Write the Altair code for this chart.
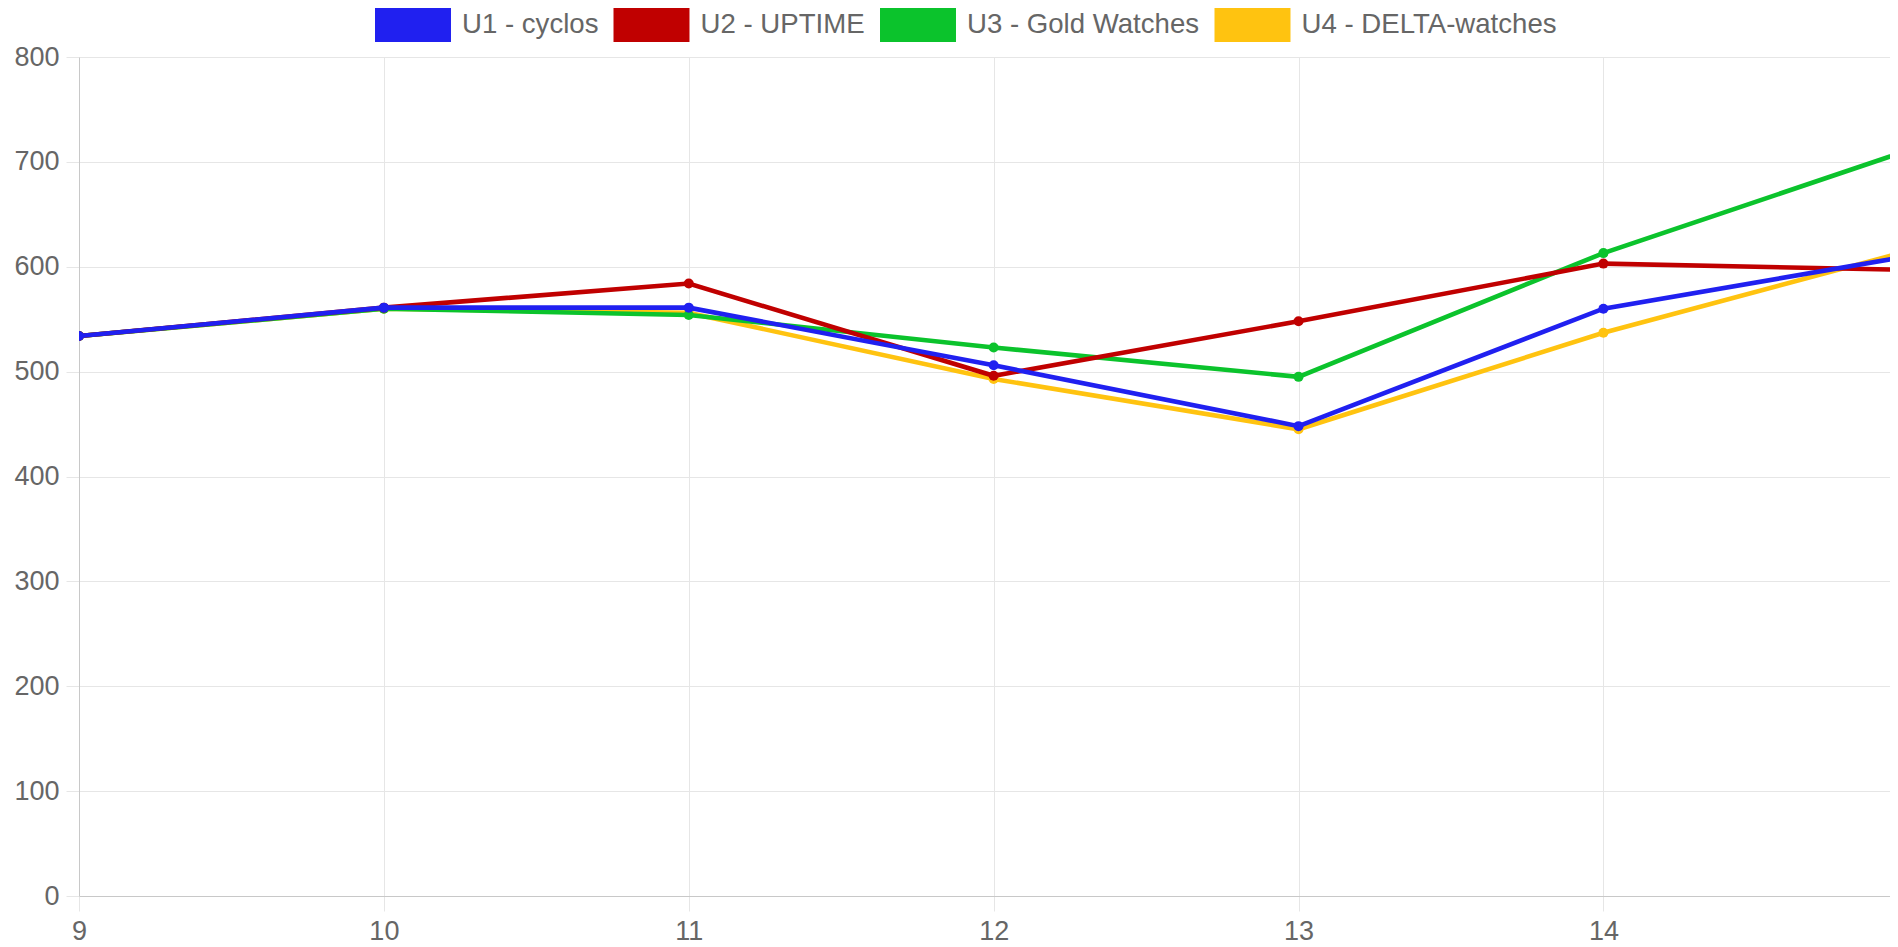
import altair as alt
import pandas as pd

# ---- data ----
x_values = [9, 10, 11, 12, 13, 14, 15]
x_tick_values = [9, 10, 11, 12, 13, 14]
series_names = ["U1 - cyclos", "U2 - UPTIME", "U3 - Gold Watches", "U4 - DELTA-watches"]
u1_cyclos = [534, 561, 561, 506, 448, 560, 610]
u2_uptime = [534, 561, 584, 496, 548, 603, 597]
u3_gold = [534, 560, 554, 523, 495, 613, 711]
u4_delta = [534, 560, 556, 493, 445, 537, 615]
y_ticks = [0, 100, 200, 300, 400, 500, 600, 700, 800]
series_colors = ["#2020F0", "#C00000", "#0BC32C", "#FFC310"]

all_series = [u1_cyclos, u2_uptime, u3_gold, u4_delta]
rows = []
for name, vals in zip(series_names, all_series):
    for x, v in zip(x_values, vals):
        rows.append({"x": x, "value": v, "series": name})
df = pd.DataFrame(rows)

FONT = "Liberation Sans"
GREY = "#666666"

color = alt.Color(
    "series:N",
    scale=alt.Scale(domain=series_names, range=series_colors),
    legend=alt.Legend(
        title=None,
        orient="none",
        direction="horizontal",
        legendX=296,
        legendY=-49,
        symbolType="M-1,-1L3.47,-1L3.47,1L-1,1Z",
        symbolSize=1156,
        symbolStrokeWidth=0,
        symbolOpacity=1,
        labelFontSize=27.6,
        labelFont=FONT,
        labelColor=GREY,
        labelOffset=53,
        columnPadding=14.5,
        labelLimit=600,
    ),
)

x_enc = alt.X(
    "x:Q",
    scale=alt.Scale(domain=[9, 14.94], nice=False, zero=False),
    axis=alt.Axis(
        values=x_tick_values,
        format="d",
        title=None,
        labelFontSize=27,
        labelFont=FONT,
        labelColor=GREY,
        tickSize=15,
        tickColor="#e6e6e6",
        labelPadding=7,
        grid=True,
        gridColor="#e6e6e6",
        domainColor="#c8c8c8",
        labelFlush=False,
    ),
)
y_enc = alt.Y(
    "value:Q",
    scale=alt.Scale(domain=[0, 800], nice=False),
    axis=alt.Axis(
        values=y_ticks,
        title=None,
        labelFontSize=27,
        labelFont=FONT,
        labelColor=GREY,
        tickSize=13,
        tickColor="#e6e6e6",
        labelPadding=7,
        grid=True,
        gridColor="#e6e6e6",
        domainColor="#c8c8c8",
    ),
)

base = alt.Chart(df)
layers = []
# Draw last series first so that U1 ends on top (as in the reference)
for name in reversed(series_names):
    layers.append(
        base.transform_filter(alt.datum.series == name)
        .mark_line(
            strokeWidth=4.6,
            clip=True,
            point=alt.OverlayMarkDef(filled=True, size=100, opacity=1, clip=True),
        )
        .encode(x=x_enc, y=y_enc, color=color)
    )

chart = (
    alt.layer(*layers)
    .properties(
        width=1811,
        height=839,
        padding={"left": 5, "top": 0, "right": 0, "bottom": 0},
        background="white",
    )
    .configure_view(strokeWidth=0)
)

chart.save("out.html", embed_options={"renderer": "svg", "actions": False})
